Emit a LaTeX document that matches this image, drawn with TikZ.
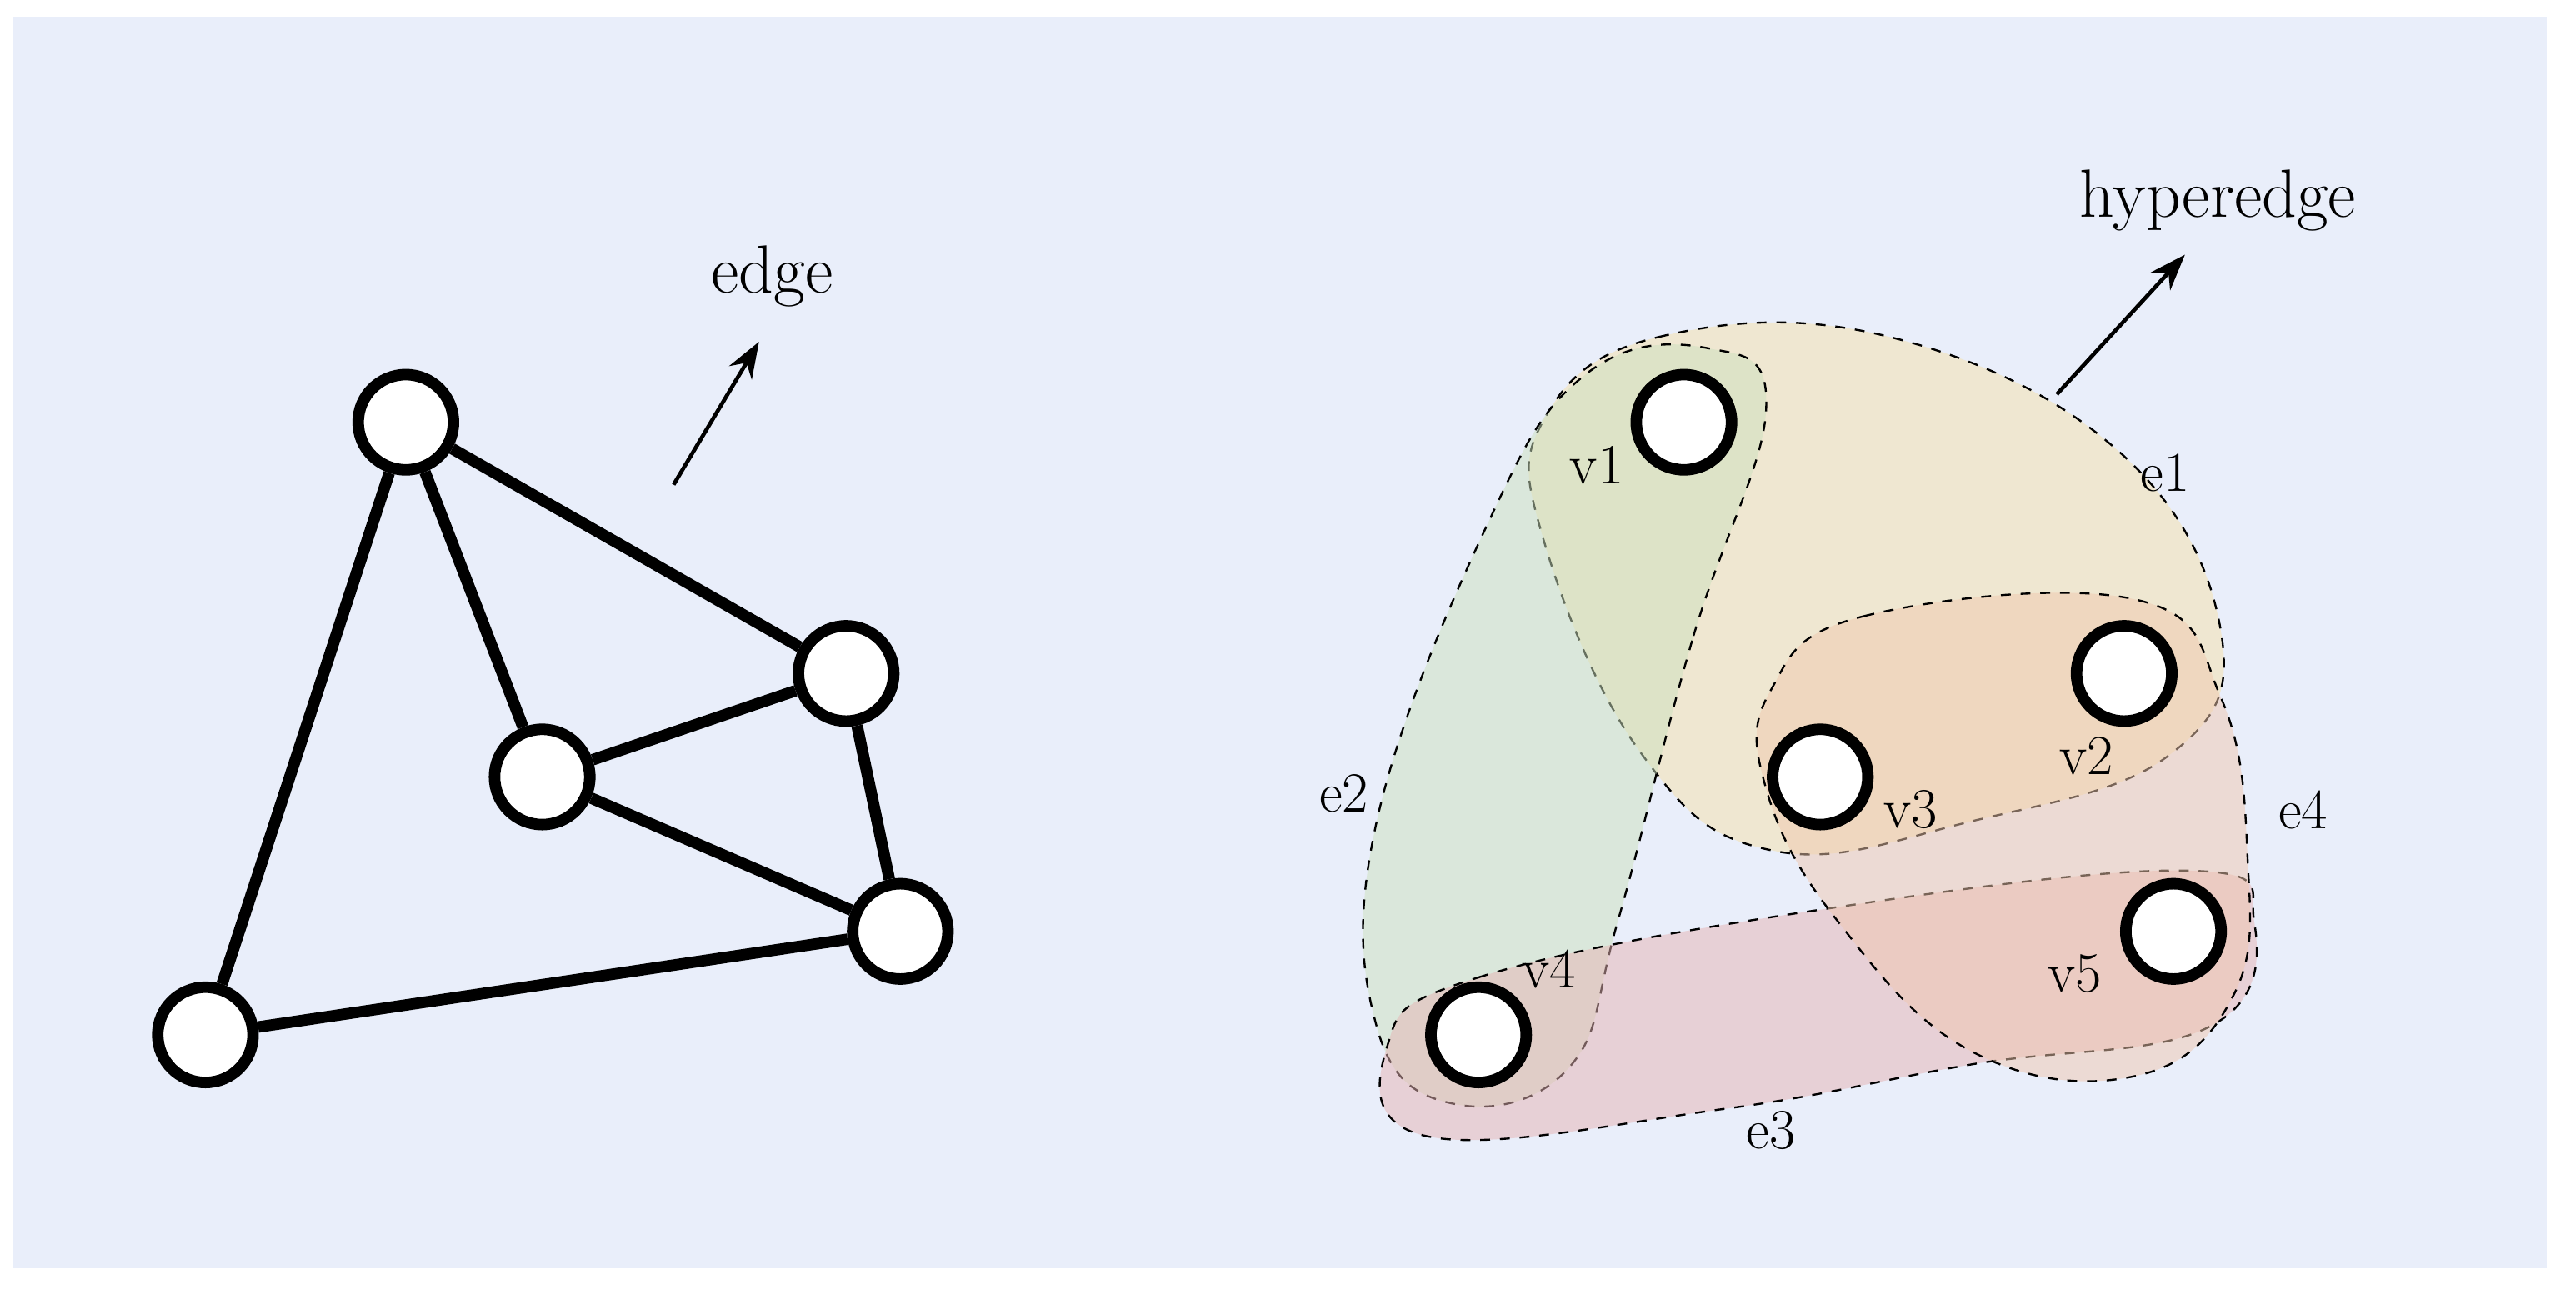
\documentclass[tikz,border=0pt]{standalone}
\usetikzlibrary{arrows.meta}
\definecolor{bgblue}{RGB}{233,238,250}
\definecolor{eyellow}{RGB}{245,225,170}
\definecolor{egreen}{RGB}{205,225,190}
\definecolor{epink}{RGB}{230,180,180}
\definecolor{eorange}{RGB}{240,200,175}
\tikzset{every picture/.style={line width=0.75pt}}
\tikzset{
  vtx/.style={circle,draw=black,fill=white,line width=3.5pt,minimum size=29pt,inner sep=0pt},
  lnk/.style={line width=3.5pt},
  hedge/.style={draw=black,dashed,line width=0.6pt,fill opacity=0.5},
  lbl/.style={font=\LARGE,inner sep=0.75pt},
  pointer/.style={line width=1.2pt,-{Stealth[length=11pt,width=8pt]}}
}
\begin{document}
\begin{tikzpicture}[x=0.5pt,y=0.5pt,yscale=-1,xscale=1]
\useasboundingbox (0,0) rectangle (1568,788);
\fill[bgblue] (8,10) rectangle (1550,772);

% plain graph
\node[vtx] (a) at (247,257) {};
\node[vtx] (b) at (330,473) {};
\node[vtx] (c) at (515,410) {};
\node[vtx] (d) at (548,567) {};
\node[vtx] (e) at (125,630) {};
\draw[lnk] (a) -- (b);
\draw[lnk] (a) -- (c);
\draw[lnk] (a) -- (e);
\draw[lnk] (b) -- (c);
\draw[lnk] (b) -- (d);
\draw[lnk] (c) -- (d);
\draw[lnk] (d) -- (e);
\coordinate (p1) at (410,295);
\coordinate (p2) at (462,208);
\draw[pointer] (p1) -- (p2);
\node[lbl,font=\huge] (edge) at (470,168) {edge};

% hypergraph
\path[hedge,fill=eyellow] plot[smooth cycle,tension=0.7] coordinates {(940,255) (1010,205) (1150,205) (1290,275) (1352,385) (1320,460) (1200,500) (1080,518) (1000,460) (940,330)};
\path[hedge,fill=egreen] plot[smooth cycle,tension=0.7] coordinates {(1075,250) (1030,390) (985,560) (955,650) (885,672) (838,625) (838,500) (905,320) (965,228) (1040,212)};
\path[hedge,fill=epink] plot[smooth cycle,tension=0.7] coordinates {(845,635) (900,595) (1100,555) (1330,530) (1372,560) (1345,625) (1200,648) (1050,675) (870,692)};
\path[hedge,fill=eorange] plot[smooth cycle,tension=0.7] coordinates {(1078,420) (1135,375) (1300,365) (1352,425) (1368,520) (1360,605) (1300,655) (1200,640) (1118,560) (1075,480)};

\node[vtx] (v1) at (1025,257) {};
\node[vtx] (v2) at (1293,410) {};
\node[vtx] (v3) at (1108,473) {};
\node[vtx] (v4) at (900,630) {};
\node[vtx] (v5) at (1323,567) {};
\node[lbl] (l1) at (972,283) {v1};
\node[lbl] (l2) at (1270,460) {v2};
\node[lbl] (l3) at (1163,493) {v3};
\node[lbl] (l4) at (943,590) {v4};
\node[lbl] (l5) at (1263,593) {v5};
\node[lbl] (e1) at (1318,288) {e1};
\node[lbl] (e2) at (818,483) {e2};
\node[lbl] (e3) at (1078,688) {e3};
\node[lbl] (e4) at (1402,493) {e4};
\coordinate (q1) at (1252,240);
\coordinate (q2) at (1330,155);
\draw[pointer] (q1) -- (q2);
\node[lbl,font=\huge] (hyper) at (1350,122) {hyperedge};
\end{tikzpicture}
\end{document}
